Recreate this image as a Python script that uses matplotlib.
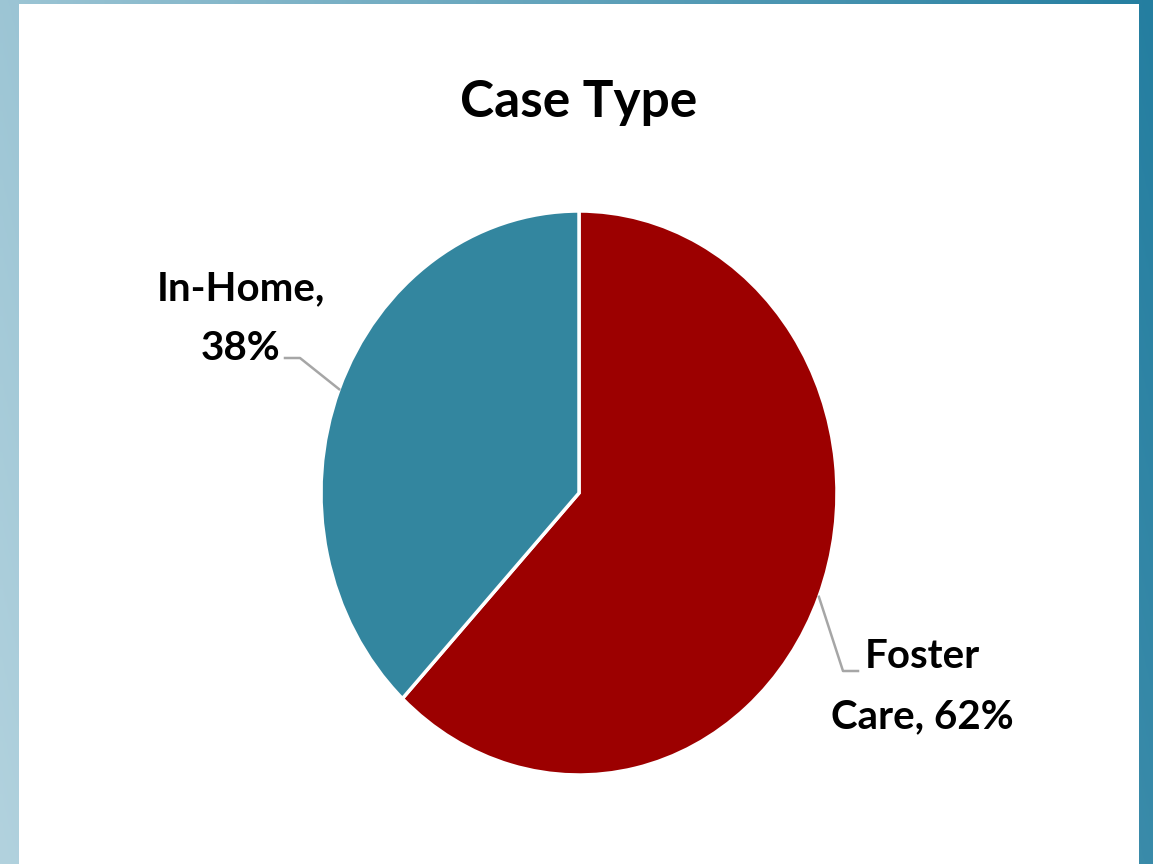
import matplotlib.pyplot as plt
import numpy as np

plt.rcParams['font.family'] = ['Lato', 'DejaVu Sans']

# Data
categories = ['Foster\nCare, 62%', 'In-Home,\n38%']
shares = [62, 38]
colors = ['#9c0000', '#33869f']

W, H = 1153, 864
fig = plt.figure(figsize=(W / 100, H / 100), dpi=100)

# Gradient background
bg = fig.add_axes([0, 0, 1, 1])
xx, yy = np.meshgrid(np.linspace(0, 1, 300), np.linspace(0, 1, 300))
t = np.clip(0.85 * xx + 0.15 * (1 - yy), 0, 1)
left_col = np.array([178, 210, 222]) / 255
right_col = np.array([36, 126, 160]) / 255
img = left_col[None, None, :] * (1 - t[..., None]) + right_col[None, None, :] * t[..., None]
bg.imshow(img, extent=[0, W, H, 0], aspect='auto', origin='upper')
bg.add_patch(plt.Rectangle((19, 4), 1120, 860, facecolor='white', edgecolor='none'))
bg.set_xlim(0, W)
bg.set_ylim(H, 0)
bg.axis('off')

# Title
fig.text(579 / W, 1 - 117 / H, 'Case Type', ha='center', va='baseline',
         fontsize=37, fontweight='bold', color='black')

# Pie (slightly stretched vertically, as in the original)
cx, cy, rx, ry = 579, 493, 258, 282
ax = fig.add_axes([(cx - rx) / W, 1 - (cy + ry) / H, 2 * rx / W, 2 * ry / H])
wedges, _ = ax.pie(shares, colors=colors, startangle=90, counterclock=False,
                   radius=1, wedgeprops=dict(edgecolor='white', linewidth=2.5))
ax.set_aspect('auto')
ax.set_xlim(-1, 1)
ax.set_ylim(-1, 1)
ax.axis('off')

# Leader lines and labels
def to_data(px, py):
    return (px - cx) / rx, (cy - py) / ry

elbows = [[(843, 671), (858, 671)], [(300, 358), (285, 358)]]
label_pos = [(922, 728), (241, 360)]  # baseline of last line
for w, cat, elb, lp in zip(wedges, categories, elbows, label_pos):
    ang = np.deg2rad((w.theta1 + w.theta2) / 2)
    pts = [(np.cos(ang), np.sin(ang))] + [to_data(*p) for p in elb]
    xs, ys = zip(*pts)
    ax.plot(xs, ys, color='#a6a6a6', lw=1.8, clip_on=False)
    fig.text(lp[0] / W, 1 - lp[1] / H, cat, ha='center', va='baseline',
             fontsize=29, fontweight='bold', color='black', linespacing=1.75)

fig.savefig('out.png', dpi=100)
